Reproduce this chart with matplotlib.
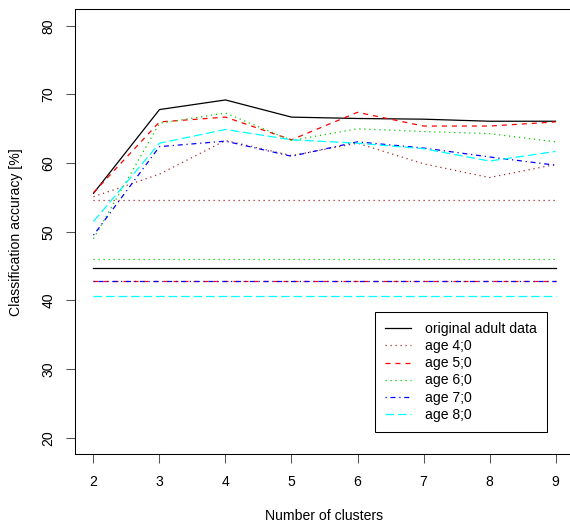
import numpy as np
import matplotlib
matplotlib.use('Agg')
import matplotlib.pyplot as plt

plt.rcParams['font.family'] = ['Liberation Sans', 'DejaVu Sans']

# number of clusters
clusters = [2, 3, 4, 5, 6, 7, 8, 9]

# classification accuracy per data set
orig_adult = [55.6, 67.8, 69.2, 66.7, 66.5, 66.4, 66.1, 66.1]
age4 = [55.1, 58.4, 63.3, 61.1, 62.9, 59.9, 57.9, 59.8]
age5 = [55.7, 66.0, 66.7, 63.4, 67.4, 65.4, 65.4, 66.0]
age6 = [49.0, 65.8, 67.3, 63.3, 65.0, 64.6, 64.3, 63.1]
age7 = [49.5, 62.4, 63.2, 61.0, 63.1, 62.2, 60.9, 59.7]
age8 = [51.5, 62.9, 64.9, 63.4, 62.9, 62.1, 60.3, 61.7]

# baselines (flat reference lines)
base_orig = 44.7
base_age4 = 54.7
base_age5 = 42.8
base_age6 = 46.1
base_age7 = 42.8
base_age8 = 40.6

labels = ['original adult data', 'age 4;0', 'age 5;0', 'age 6;0', 'age 7;0', 'age 8;0']
colors = ['black', '#A52A2A', '#FF0000', '#00CD00', '#0000FF', '#00FFFF']
dashes = [None, (1, 3), (4, 4), (1, 3), (1, 3, 4, 3), (7, 3)]

series = [orig_adult, age4, age5, age6, age7, age8]
bases = [base_orig, base_age4, base_age5, base_age6, base_age7, base_age8]

fs = 10.1

fig = plt.figure(figsize=(5.70, 5.23), dpi=100)
ax = fig.add_axes([75 / 570, 68.7 / 523, 499 / 570, 445 / 523])

lw = 0.9
handles = []
for s, b, c, d, lab in zip(series, bases, colors, dashes, labels):
    if d is None:
        h, = ax.plot(clusters, s, color=c, lw=lw, label=lab)
        ax.plot([clusters[0], clusters[-1]], [b, b], color=c, lw=lw)
    else:
        h, = ax.plot(clusters, s, color=c, lw=lw, dashes=d, label=lab)
        ax.plot([clusters[0], clusters[-1]], [b, b], color=c, lw=lw, dashes=d)
    handles.append(h)

ax.set_xlim(1.72, 9.28)
ax.set_ylim(17.6, 82.4)
ax.set_xticks(clusters)
ax.set_yticks([20, 30, 40, 50, 60, 70, 80])
ax.tick_params(axis='both', direction='out', length=6.2, width=0.75,
               labelsize=fs, color='#555555')
ax.tick_params(axis='x', pad=9)
ax.tick_params(axis='y', pad=8)
for t in ax.get_yticklabels():
    t.set_rotation(90)
    t.set_va('center')
ax.spines['right'].set_visible(False)
for sp in ax.spines.values():
    sp.set_linewidth(0.75)

ax.set_xlabel('Number of clusters', fontsize=fs, labelpad=14)
ax.set_ylabel('Classification accuracy [%]', fontsize=fs, labelpad=13)

leg = ax.legend(handles=handles, loc='upper left',
                bbox_to_anchor=(375 / 570, 1 - 312 / 523),
                bbox_transform=fig.transFigure, borderaxespad=0,
                fontsize=fs, fancybox=False, edgecolor='black', framealpha=1,
                handlelength=1.85, handletextpad=1.0, labelspacing=0.22,
                borderpad=0.73)
leg.get_frame().set_linewidth(0.75)

fig.savefig('out.png', dpi=100)
